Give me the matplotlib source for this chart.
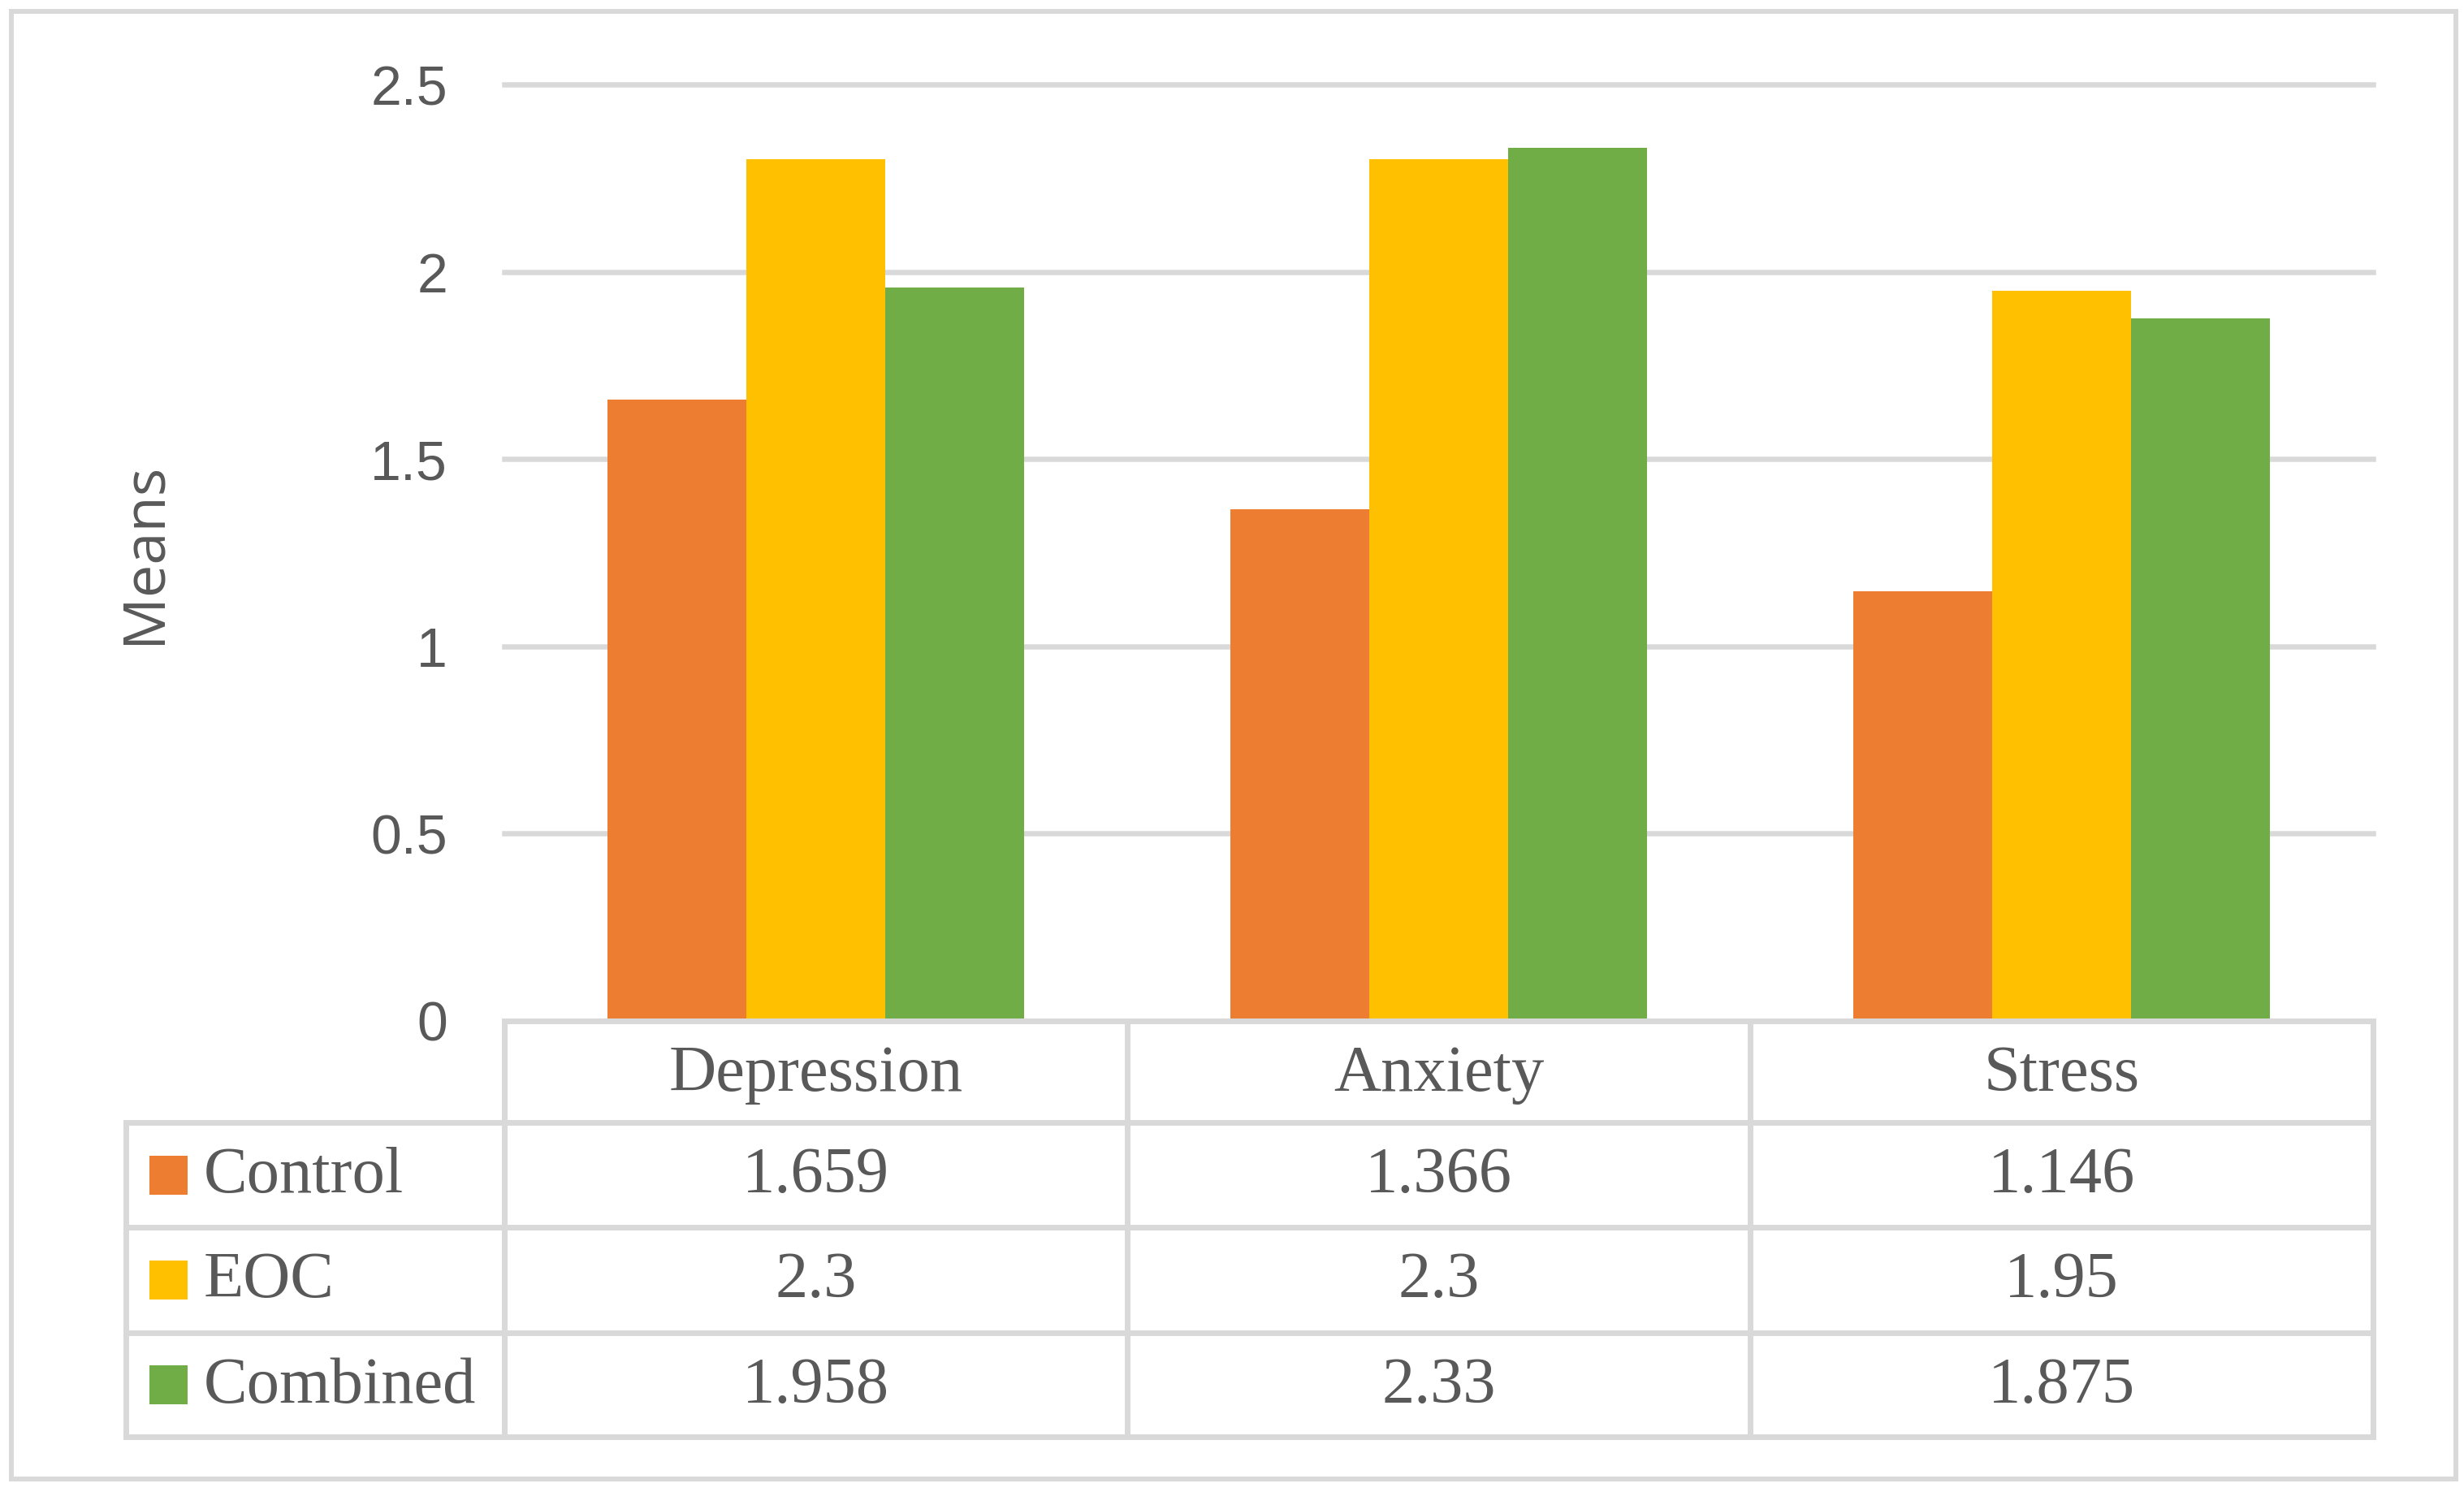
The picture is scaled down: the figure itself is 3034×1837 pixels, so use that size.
import matplotlib
matplotlib.use("Agg")
import matplotlib.pyplot as plt
from matplotlib.patches import Rectangle
import numpy as np

categories = ["Depression", "Anxiety", "Stress"]
series_names = ["Control", "EOC", "Combined"]
control = [1.659, 1.366, 1.146]
eoc = [2.3, 2.3, 1.95]
combined = [1.958, 2.33, 1.875]
control_lbl = ["1.659", "1.366", "1.146"]
eoc_lbl = ["2.3", "2.3", "1.95"]
combined_lbl = ["1.958", "2.33", "1.875"]
yticks = [0, 0.5, 1, 1.5, 2, 2.5]
ytick_labels = ["0", "0.5", "1", "1.5", "2", "2.5"]
colors = ["#ED7D31", "#FFC000", "#70AD47"]

W, H = 3034, 1837
DPI = 100
TXT = "#595959"
GRID = "#D9D9D9"
PX = 72.0 / DPI  # points per pixel

fig = plt.figure(figsize=(W / DPI, H / DPI), dpi=DPI)
fig.patch.set_facecolor("white")

# pixel layout
pl, pr = 621, 2922
py_top, py_zero = 104, 1257
ax = fig.add_axes([pl / W, 1 - py_zero / H, (pr - pl) / W, (py_zero - py_top) / H])
ax.set_xlim(-0.5, 2.5)
ax.set_ylim(0, 2.5)
for s in ax.spines.values():
    s.set_visible(False)
ax.set_xticks([])
ax.set_yticks(yticks)
ax.set_yticklabels(ytick_labels, family=["Liberation Sans", "DejaVu Sans"],
                   fontsize=49, color=TXT)
ax.tick_params(axis="y", length=0, pad=70 * PX)
for yv in yticks[1:]:
    ax.axhline(yv, color=GRID, lw=6.5 * PX, zorder=0, clip_on=False)

x = np.arange(len(categories))
bw = 0.223
data = [control, eoc, combined]
for i, (vals, c) in enumerate(zip(data, colors)):
    ax.bar(x + (i - 1) * bw, vals, width=bw, color=c, zorder=2)

# overlay in pixel coords
ov = fig.add_axes([0, 0, 1, 1], facecolor="none")
ov.set_xlim(0, W)
ov.set_ylim(H, 0)
ov.axis("off")

lw_t = 7 * PX
rows_y = [py_zero, 1382, 1511, 1641, 1769]
tab_left = 155
catw = (pr - pl) / 3
col_x = [pl + k * catw for k in range(4)]

# horizontal lines
ov.plot([pl, pr], [rows_y[0], rows_y[0]], color=GRID, lw=lw_t, solid_capstyle="projecting")
for yy in rows_y[1:]:
    ov.plot([tab_left, pr], [yy, yy], color=GRID, lw=lw_t, solid_capstyle="projecting")
# vertical lines
ov.plot([tab_left, tab_left], [rows_y[1], rows_y[-1]], color=GRID, lw=lw_t, solid_capstyle="projecting")
for cx in col_x:
    ov.plot([cx, cx], [rows_y[0], rows_y[-1]], color=GRID, lw=lw_t, solid_capstyle="projecting")

serif = ["Liberation Serif", "DejaVu Serif"]
FS = 58
# header
for k, cat in enumerate(categories):
    ov.text(col_x[k] + catw / 2, (rows_y[0] + rows_y[1]) / 2 + 4, cat, ha="center", va="center",
            fontsize=FS, family=serif, color=TXT)
# rows
labels = [control_lbl, eoc_lbl, combined_lbl]
for r in range(3):
    yc = (rows_y[r + 1] + rows_y[r + 2]) / 2
    ov.add_patch(Rectangle((184, yc - 24), 47, 48, color=colors[r], lw=0))
    ov.text(251, yc + 2, series_names[r], ha="left", va="center", fontsize=FS, family=serif, color=TXT)
    for k in range(3):
        ov.text(col_x[k] + catw / 2, yc + 2, labels[r][k], ha="center", va="center",
                fontsize=FS, family=serif, color=TXT)

# y label
ov.text(178, 681, "Means", rotation=90, ha="center", va="center", fontsize=52,
        family=["Open Sans", "DejaVu Sans"], color=TXT)

# outer border
ov.add_patch(Rectangle((14, 14), 3024 - 14, 1821 - 14, fill=False, edgecolor=GRID, lw=6 * PX))

fig.savefig("out.png", dpi=DPI, facecolor="white")
